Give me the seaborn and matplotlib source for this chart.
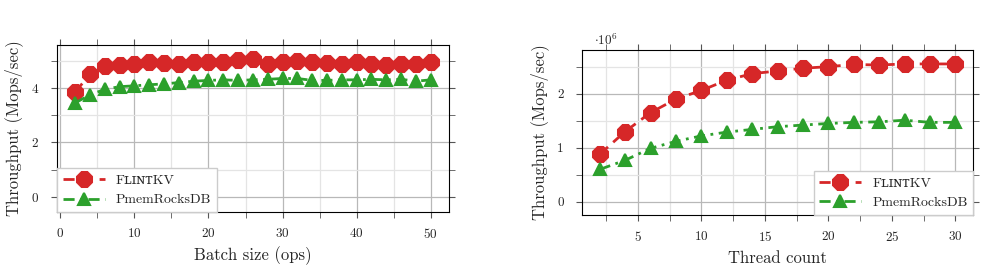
import matplotlib
matplotlib.use("Agg")
import matplotlib.pyplot as plt
from matplotlib.ticker import MultipleLocator
import seaborn as sns

# batch size experiment (Mops/sec)
batch_sizes = [2, 4, 6, 8, 10, 12, 14, 16, 18, 20, 22, 24, 26, 28, 30, 32, 34, 36, 38, 40, 42, 44, 46, 48, 50]
batch_flint = [3.85, 4.5, 4.8, 4.85, 4.9, 4.95, 4.92, 4.88, 4.97, 4.95, 4.97, 5.02, 5.05, 4.9, 4.95,
               4.98, 4.97, 4.92, 4.9, 4.95, 4.9, 4.85, 4.9, 4.88, 4.95]
batch_pmem = [3.45, 3.75, 3.95, 4.05, 4.08, 4.12, 4.15, 4.2, 4.25, 4.28, 4.3, 4.28, 4.3, 4.32, 4.35,
              4.35, 4.28, 4.28, 4.3, 4.3, 4.32, 4.3, 4.32, 4.25, 4.3]

# thread count experiment (ops/sec)
threads = [2, 4, 6, 8, 10, 12, 14, 16, 18, 20, 22, 24, 26, 28, 30]
thread_flint = [0.88e6, 1.3e6, 1.65e6, 1.9e6, 2.06e6, 2.25e6, 2.37e6, 2.42e6, 2.47e6, 2.5e6,
                2.54e6, 2.53e6, 2.55e6, 2.55e6, 2.55e6]
thread_pmem = [0.6e6, 0.77e6, 0.99e6, 1.12e6, 1.22e6, 1.29e6, 1.34e6, 1.39e6, 1.42e6, 1.45e6,
               1.47e6, 1.48e6, 1.51e6, 1.47e6, 1.47e6]

labels = ["F\u029f\u026a\u0274\u1d1bKV", "PmemRocksDB"]
red = "#d62728"
green = "#2ca02c"
red_dash = (0, (4, 2.5))
green_dash = (0, (4, 2, 1, 2))

sns.set_style("ticks")
plt.rcParams["font.family"] = ["cmr10", "DejaVu Serif"]
plt.rcParams["mathtext.fontset"] = "cm"
plt.rcParams["axes.formatter.use_mathtext"] = True
plt.rcParams["font.size"] = 9.5

fig = plt.figure(figsize=(9.88, 2.71), dpi=100)
ax1 = fig.add_axes([0.058, 0.218, 0.396, 0.616])
ax2 = fig.add_axes([0.589, 0.207, 0.396, 0.609])


def draw(ax, x, y1, y2):
    sns.lineplot(x=x, y=y1, ax=ax, color=red, linewidth=2.0,
                 marker="8", markersize=12.5, markeredgecolor=red, label=labels[0])
    ax.lines[-1].set_linestyle(red_dash)
    sns.lineplot(x=x, y=y2, ax=ax, color=green, linewidth=2.0,
                 marker="^", markersize=9, markeredgecolor=green, markeredgewidth=1.5,
                 label=labels[1])
    ax.lines[-1].set_linestyle(green_dash)
    ax.grid(which="major", color="#b8b8b8", linewidth=0.9)
    ax.grid(which="minor", color="#e4e4e4", linewidth=0.9)
    ax.set_axisbelow(True)
    ax.tick_params(which="both", direction="out", top=True, right=True, labelsize=9.5, length=4,
                   color="#555555")
    ax.tick_params(axis="y", pad=9)
    ax.tick_params(axis="x", pad=7)
    for s in ax.spines.values():
        s.set_visible(True)
        s.set_color("black")
        s.set_linewidth(0.8)
    ax.set_ylabel("Throughput (Mops/sec)", fontsize=12, labelpad=6)


draw(ax1, batch_sizes, batch_flint, batch_pmem)
ax1.set_xlim(-0.4, 52.4)
ax1.set_ylim(-0.55, 5.58)
ax1.xaxis.set_major_locator(MultipleLocator(10))
ax1.xaxis.set_minor_locator(MultipleLocator(5))
ax1.yaxis.set_major_locator(MultipleLocator(2))
ax1.yaxis.set_minor_locator(MultipleLocator(1))
ax1.set_xlabel("Batch size (ops)", fontsize=12, labelpad=4)

draw(ax2, threads, thread_flint, thread_pmem)
ax2.set_xlim(0.6, 31.4)
ax2.set_ylim(-0.24e6, 2.81e6)
ax2.xaxis.set_major_locator(MultipleLocator(5))
ax2.xaxis.set_minor_locator(MultipleLocator(2.5))
ax2.yaxis.set_major_locator(MultipleLocator(1e6))
ax2.yaxis.set_minor_locator(MultipleLocator(0.5e6))
ax2.yaxis.set_major_formatter(plt.FuncFormatter(lambda v, p: f"{v / 1e6:g}"))
ax2.text(0.06, 1.01, r"$\cdot 10^6$", transform=ax2.transAxes, ha="center", va="bottom", fontsize=9.5)
ax2.set_xlabel("Thread count", fontsize=12, labelpad=5)

for ax, loc in [(ax1, "lower left"), (ax2, "lower right")]:
    leg = ax.legend(loc=loc, fancybox=False, edgecolor="#cccccc", fontsize=10,
                    handlelength=3, borderaxespad=0.0, framealpha=1)
    for h, ls in zip(leg.get_lines(), [red_dash, green_dash]):
        h.set_linestyle(ls)

fig.savefig("out.png", dpi=100)
